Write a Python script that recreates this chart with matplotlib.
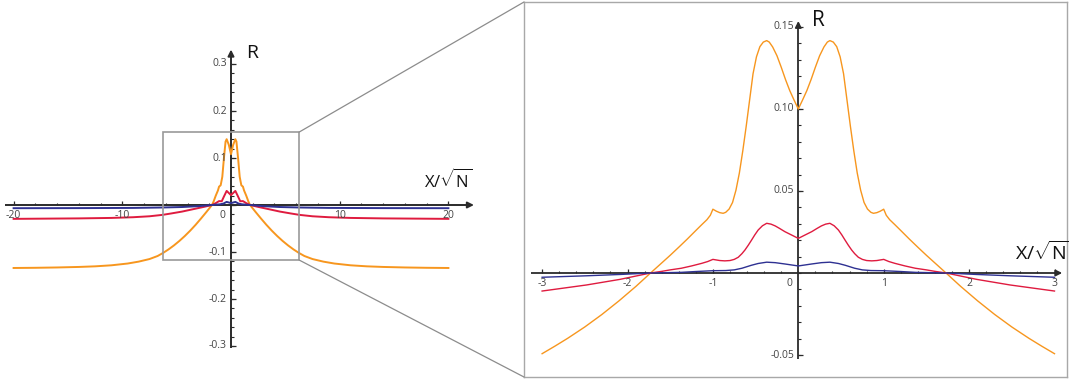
import numpy as np
import matplotlib
matplotlib.use("Agg")
import matplotlib.pyplot as plt
from matplotlib.patches import Rectangle, ConnectionPatch

plt.rcParams['font.family'] = ['Open Sans', 'DejaVu Sans']
plt.rcParams['mathtext.fontset'] = 'custom'
plt.rcParams['mathtext.rm'] = 'Open Sans'

# ---- data (x >= 0 half, curves are symmetric) ----
# wide view, x from 0 to 20
wide_x_orange = [0, 0.2, 0.4, 0.5, 0.65, 0.8, 0.95, 1.1, 1.2, 1.4, 1.6, 1.75, 2.25, 2.75,
                 3.25, 3.75, 4.25, 4.75, 5.25, 5.75, 6.25, 6.75, 7.5, 8.5, 9.5, 11, 12.5,
                 14, 16, 18, 20]
wide_orange = [0.108, 0.128, 0.140, 0.135, 0.100, 0.060, 0.042, 0.039, 0.031, 0.020,
               0.0075, 0.0, -0.0145, -0.0285, -0.0420, -0.0545, -0.0660, -0.0765, -0.0860,
               -0.0945, -0.1020, -0.1085, -0.1150, -0.1205, -0.1245, -0.1283, -0.1305,
               -0.1318, -0.1329, -0.1336, -0.1340]
wide_x_red = [0, 0.4, 0.65, 0.85, 1.1, 1.4, 1.75, 2.5, 3.0, 3.5, 4.5, 5.5, 6.3, 7.5,
              9, 11, 14, 17, 20]
wide_red = [0.021, 0.030, 0.018, 0.008, 0.0083, 0.004, 0.0, -0.004, -0.0065, -0.009,
            -0.014, -0.018, -0.021, -0.024, -0.026, -0.0275, -0.0285, -0.029, -0.0295]
wide_x_blue = [0, 0.4, 0.7, 1.0, 1.75, 3.0, 4.5, 6.3, 9, 14, 20]
wide_blue = [0.004, 0.0066, 0.003, 0.0015, 0.0, -0.0025, -0.0043, -0.0053, -0.0062,
             -0.0066, -0.0068]

# zoomed view, x from 0 to 3
zoom_x_orange = [0, 0.05, 0.10, 0.15, 0.20, 0.25, 0.30, 0.34, 0.37, 0.41, 0.45, 0.49,
                 0.53, 0.57, 0.61, 0.65, 0.69, 0.73, 0.77, 0.81, 0.85, 0.88, 0.92, 0.96,
                 1.0, 1.03, 1.07, 1.13, 1.2, 1.3, 1.4, 1.5, 1.6, 1.73, 1.9, 2.1, 2.3,
                 2.5, 2.7, 2.85, 3.0]
zoom_orange = [0.100, 0.1055, 0.1112, 0.118, 0.1255, 0.1325, 0.1378, 0.1408, 0.1417,
               0.1408, 0.1380, 0.1318, 0.1215, 0.1055, 0.0895, 0.0745, 0.0610, 0.0505,
               0.0430, 0.0390, 0.0370, 0.0364, 0.0368, 0.0377, 0.0389, 0.0352, 0.0325,
               0.0295, 0.0259, 0.0207, 0.0157, 0.0108, 0.0061, 0.0, -0.0081, -0.0170,
               -0.0253, -0.0329, -0.0398, -0.0446, -0.0492]
zoom_x_red = [0, 0.08, 0.157, 0.22, 0.27, 0.32, 0.37, 0.42, 0.47, 0.51, 0.547, 0.585,
              0.625, 0.66, 0.703, 0.75, 0.80, 0.86, 0.92, 1.0, 1.06, 1.13, 1.25, 1.37,
              1.5, 1.6, 1.73, 2.09, 2.48, 3.0]
zoom_red = [0.0211, 0.0232, 0.0252, 0.0272, 0.0287, 0.0298, 0.0303, 0.0288, 0.0262,
            0.0232, 0.0201, 0.0170, 0.0140, 0.0118, 0.0096, 0.0083, 0.0076, 0.0074,
            0.0076, 0.0083, 0.0070, 0.0059, 0.0043, 0.0029, 0.0019, 0.0010, 0.0,
            -0.0039, -0.0073, -0.0110]
zoom_x_blue = [0, 0.157, 0.27, 0.37, 0.47, 0.55, 0.66, 0.75, 0.85, 1.0, 1.2, 1.37, 1.73,
               2.09, 2.48, 3.0]
zoom_blue = [0.0043, 0.0055, 0.0063, 0.0066, 0.0058, 0.0047, 0.0029, 0.0019, 0.0015,
             0.0014, 0.0009, 0.0004, 0.0, -0.0009, -0.0017, -0.0026]

ORANGE = '#F7961E'
RED = '#DF1B3F'
BLUE = '#2E3192'
AXC = '#2b2b2b'
TXT = '#444444'


def mirror(x, y):
    x = np.asarray(x, float)
    y = np.asarray(y, float)
    return np.concatenate([-x[::-1], x[1:]]), np.concatenate([y[::-1], y[1:]])


def draw_axes(ax, xr, yr, xminor, xmajor, ymajor_ticks, yminor, px_x, px_y, lw):
    # axis lines with arrow heads
    ax.plot([xr[0], xr[1]], [0, 0], color=AXC, lw=lw, zorder=2, solid_capstyle='butt')
    ax.plot([0, 0], [yr[0], yr[1]], color=AXC, lw=lw, zorder=2, solid_capstyle='butt')
    ax.annotate('', xy=(xr[1] + 6 / px_x, 0), xytext=(xr[1] - 1 / px_x, 0),
                arrowprops=dict(arrowstyle='-|>', color=AXC, lw=lw, mutation_scale=9,
                                shrinkA=0, shrinkB=0), zorder=2)
    ax.annotate('', xy=(0, yr[1] + 6 / px_y), xytext=(0, yr[1] - 1 / px_y),
                arrowprops=dict(arrowstyle='-|>', color=AXC, lw=lw, mutation_scale=9,
                                shrinkA=0, shrinkB=0), zorder=2)
    # ticks: x ticks point up, y ticks point right
    ax.vlines(xminor, 0, 2.5 / px_y, color=AXC, lw=0.8, zorder=2)
    ax.vlines(xmajor, 0, 4.5 / px_y, color=AXC, lw=0.9, zorder=2)
    ax.hlines(yminor, 0, 2.5 / px_x, color=AXC, lw=0.8, zorder=2)
    ax.hlines(ymajor_ticks, 0, 4.5 / px_x, color=AXC, lw=0.9, zorder=2)


fig = plt.figure(figsize=(10.69, 3.81), dpi=100)
W, H = 1069, 381

# ---------------- left panel (wide view) ----------------
axL = fig.add_axes([0 / W, (H - 360) / H, 480 / W, 320 / H])
L_x0, L_sx, L_y0, L_sy = 231, 10.87, 205, 470
axL.set_xlim((0 - L_x0) / L_sx, (480 - L_x0) / L_sx)
axL.set_ylim((L_y0 - 360) / L_sy, (L_y0 - 40) / L_sy)
axL.axis('off')

draw_axes(axL, (-20.8, 21.8), (-0.305, 0.318),
          np.arange(-20, 21, 2), [-20, -10, 10, 20],
          np.round(np.arange(-0.3, 0.31, 0.1), 2),
          np.round(np.arange(-0.3, 0.31, 0.02), 2), L_sx, L_sy, 1.4)

for xs, ys, c in [(wide_x_orange, wide_orange, ORANGE), (wide_x_red, wide_red, RED),
                  (wide_x_blue, wide_blue, BLUE)]:
    X, Y = mirror(xs, ys)
    axL.plot(X, Y, color=c, lw=1.4, zorder=3)

for v in [-20, -10, 10, 20]:
    axL.text(v, -10 / L_sy, str(v), ha='center', va='center', fontsize=7.5, color=TXT)
axL.text(-0.8, -10 / L_sy, '0', ha='center', va='center', fontsize=7.5, color=TXT)
for v in [-0.3, -0.2, -0.1, 0.1, 0.2, 0.3]:
    axL.text(-0.4, v, f'{v:g}', ha='right', va='center', fontsize=7.5, color=TXT)
axL.text(1.9, 0.323, 'R', ha='center', va='center', fontsize=14, color='#111111')
axL.text(20.0, 0.052, r'X/$\sqrt{\mathrm{N}}$', ha='center', va='center', fontsize=12,
         color='#111111')

# inset rectangle
axL.add_patch(Rectangle((-6.26, -0.117), 12.52, 0.272, fill=False, edgecolor='#999999',
                        lw=1.2, zorder=4))

# ---------------- right panel (zoomed view) ----------------
axR = fig.add_axes([524 / W, (H - 377) / H, 543 / W, 375 / H])
R_x0, R_sx, R_y0, R_sy = 798.3, 85.4, 273, 1640
axR.set_xlim((524 - R_x0) / R_sx, (1067 - R_x0) / R_sx)
axR.set_ylim((R_y0 - 377) / R_sy, (R_y0 - 2) / R_sy)
axR.set_xticks([])
axR.set_yticks([])
for s in axR.spines.values():
    s.set_color('#a8a8a8')
    s.set_linewidth(1.0)

draw_axes(axR, (-3.13, 3.02), (-0.0524, 0.150),
          np.round(np.arange(-3, 3.01, 0.2), 2), [-3, -2, -1, 1, 2, 3],
          [-0.05, 0.05, 0.10, 0.15],
          np.round(np.arange(-0.05, 0.151, 0.01), 2), R_sx, R_sy, 1.3)

for xs, ys, c in [(zoom_x_orange, zoom_orange, ORANGE), (zoom_x_red, zoom_red, RED),
                  (zoom_x_blue, zoom_blue, BLUE)]:
    X, Y = mirror(xs, ys)
    axR.plot(X, Y, color=c, lw=1.0, zorder=3)

for v in [-3, -2, -1, 1, 2, 3]:
    axR.text(v, -10 / R_sy, str(v), ha='center', va='center', fontsize=7.5, color=TXT)
axR.text(-0.1, -10 / R_sy, '0', ha='center', va='center', fontsize=7.5, color=TXT)
for v in [-0.05, 0.05, 0.10, 0.15]:
    axR.text(-0.05, v, f'{v:.2f}', ha='right', va='center', fontsize=7.5, color=TXT)
axR.text(0.23, 0.154, 'R', ha='center', va='center', fontsize=15, color='#111111')
axR.text(2.86, 0.0125, r'X/$\sqrt{\mathrm{N}}$', ha='center', va='center', fontsize=14,
         color='#111111')

# connecting lines from the rectangle to the zoomed frame
for yl, yr in [(0.155, 1.0), (-0.117, 0.0)]:
    con = ConnectionPatch(xyA=(6.26, yl), coordsA=axL.transData,
                          xyB=(0.0, yr), coordsB=axR.transAxes,
                          color='#8c8c8c', lw=0.9)
    fig.add_artist(con)

fig.savefig('out.png', dpi=100)
